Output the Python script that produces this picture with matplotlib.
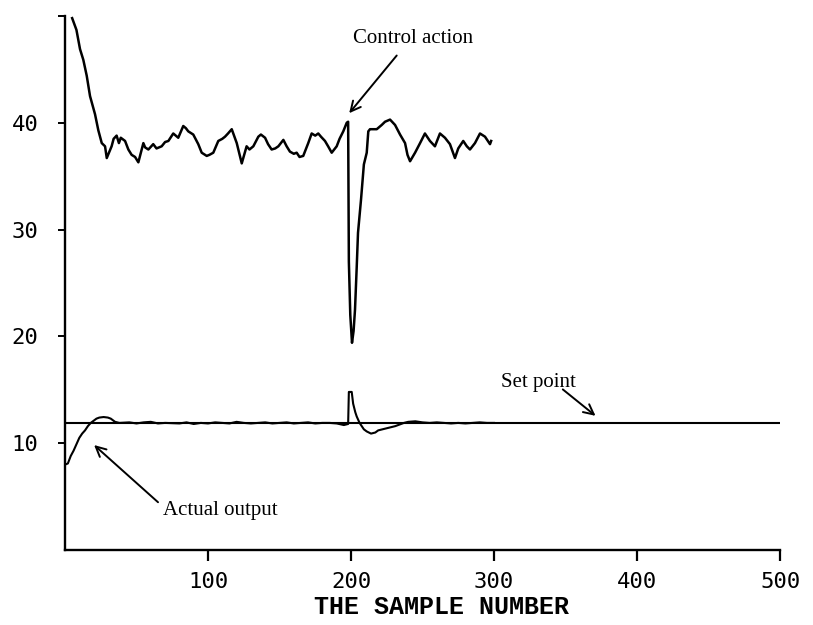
import matplotlib
matplotlib.use("Agg")
import matplotlib.pyplot as plt

# Control action series (sample number, value)
ctrl_x = [5, 8, 10.5, 12.8, 15.2, 17.5, 21, 23.3, 25.7, 28, 29.2, 32.6, 34, 36.1, 37.7, 39, 42,
          44.3, 46.6, 49, 51.3, 54.8, 56, 58.3, 61.7, 64, 67.6, 70, 72.3, 75.7, 79.2, 82.7,
          84.5, 86.2, 89.7, 93.2, 95.6, 99.1, 101, 103.7, 107.2, 110, 111.9, 114, 116.6,
          120.1, 123.6, 127, 129, 131.7, 135.2, 137, 139.9, 142, 144.5, 147, 149.2, 152.7,
          155, 157.3, 160, 162, 164, 166.6, 170.1, 172.5, 175, 177.1, 179, 181.8, 184, 186.5,
          190, 192, 194.6, 197, 198, 198.5, 199.5, 200.7, 201.8, 202.8, 204, 204.9, 207, 209,
          211, 212.1, 213.3, 218, 221.5, 223.8, 227.3, 230.8, 234.3, 237.8, 239.5, 241.3,
          244.8, 248.3, 251.7, 255.2, 258.7, 262.2, 265.7, 269.2, 272.7, 275, 278.5, 281,
          283.2, 286.7, 290.2, 293.7, 297.2, 298]
ctrl_y = [49.8, 48.7, 46.9, 45.9, 44.4, 42.5, 40.8, 39.3, 38.1, 37.8, 36.7, 37.8, 38.5, 38.8,
          38.1, 38.6, 38.3, 37.5, 37.0, 36.8, 36.3, 38.1, 37.7, 37.5, 38.0, 37.6, 37.8, 38.2,
          38.3, 39.0, 38.6, 39.7, 39.5, 39.2, 38.9, 38.0, 37.2, 36.9, 37.0, 37.2, 38.3, 38.5,
          38.7, 39.0, 39.4, 38.1, 36.2, 37.8, 37.5, 37.8, 38.7, 38.9, 38.6, 38.0, 37.5, 37.6,
          37.8, 38.4, 37.8, 37.3, 37.1, 37.2, 36.8, 36.9, 38.1, 39.0, 38.8, 39.0, 38.7, 38.3,
          37.8, 37.2, 37.8, 38.5, 39.2, 40.0, 40.1, 27.0, 22.0, 19.4, 20.5, 22.5, 26.5, 29.7,
          32.8, 36.1, 37.2, 39.2, 39.4, 39.4, 39.8, 40.1, 40.3, 39.8, 38.9, 38.1, 37.0, 36.4,
          37.2, 38.1, 39.0, 38.3, 37.8, 39.0, 38.6, 38.0, 36.7, 37.6, 38.3, 37.8, 37.5, 38.1,
          39.0, 38.7, 38.0, 38.3]

# Actual output series
out_x = [0, 2, 4, 6, 8, 10, 12, 14, 16, 18, 20, 22, 24, 27, 30, 32, 35, 38, 45, 50, 55, 60,
         65, 70, 80, 85, 90, 95, 100, 105, 110, 115, 120, 125, 130, 135, 140, 145, 150, 155,
         160, 165, 170, 175, 180, 185, 190, 195, 198, 198.5, 200.5, 201.5, 203, 204, 206,
         207.5, 209, 211, 214, 217, 219, 222, 225, 228, 231, 234, 237, 240, 245, 250, 255,
         260, 265, 270, 275, 280, 285, 290, 295, 300]
out_y = [8.0, 8.1, 8.8, 9.3, 9.9, 10.5, 10.9, 11.2, 11.6, 11.9, 12.1, 12.3, 12.4, 12.45,
         12.4, 12.3, 12.0, 11.9, 11.95, 11.85, 11.95, 12.0, 11.85, 11.9, 11.85, 11.95, 11.8,
         11.9, 11.85, 11.95, 11.9, 11.85, 12.0, 11.9, 11.85, 11.9, 11.95, 11.85, 11.9, 11.95,
         11.85, 11.9, 11.95, 11.85, 11.9, 11.9, 11.85, 11.7, 11.8, 14.8, 14.8, 13.7, 12.9,
         12.5, 11.9, 11.6, 11.3, 11.1, 10.9, 11.0, 11.2, 11.3, 11.4, 11.5, 11.6, 11.75, 11.9,
         12.0, 12.05, 11.95, 11.9, 11.95, 11.9, 11.85, 11.9, 11.85, 11.9, 11.95, 11.9, 11.9]

# Set point
sp_x = [0, 500]
sp_y = [11.9, 11.9]

x_ticks = [100, 200, 300, 400, 500]
y_ticks = [10, 20, 30, 40, 50]
y_tick_labels = ["10", "20", "30", "40", ""]

fig = plt.figure(figsize=(8.13, 6.25), dpi=100)
ax = fig.add_axes([65 / 813, 1 - 550 / 625, (780 - 65) / 813, (550 - 16) / 625])

ax.plot(ctrl_x, ctrl_y, color="black", lw=1.8)
ax.plot(out_x, out_y, color="black", lw=1.5)
ax.plot(sp_x, sp_y, color="black", lw=1.5)

ax.set_xlim(0, 500)
ax.set_ylim(0, 50)
for s in ["top", "right"]:
    ax.spines[s].set_visible(False)
for s in ["left", "bottom"]:
    ax.spines[s].set_linewidth(1.7)

mono = "DejaVu Sans Mono"
ax.set_xticks(x_ticks)
ax.set_xticklabels([str(t) for t in x_ticks], family=mono, fontsize=16)
ax.set_yticks(y_ticks)
ax.set_yticklabels(y_tick_labels, family=mono, fontsize=16)
ax.tick_params(axis="x", direction="out", length=8, width=1.6, pad=8)
ax.tick_params(axis="y", direction="out", length=5, width=1.4, pad=14)
ax.set_xlabel("THE SAMPLE NUMBER", family="Liberation Mono", fontweight="bold",
              fontsize=18, va="center")
ax.xaxis.set_label_coords(0.527, -0.107)

serif = "Liberation Serif"
arrow = dict(arrowstyle="->", color="black", lw=1.4, mutation_scale=18)

ax.text(243.7, 47.9, "Control action", family=serif, fontsize=15, ha="center", va="center")
ax.annotate("", xy=(197.5, 40.7), xytext=(233.2, 46.5), arrowprops=arrow)

ax.text(331, 15.7, "Set point", family=serif, fontsize=15, ha="center", va="center")
ax.annotate("", xy=(372.5, 12.4), xytext=(346.6, 15.2), arrowprops=arrow)

ax.text(108.5, 3.7, "Actual output", family=serif, fontsize=15, ha="center", va="center")
ax.annotate("", xy=(18.9, 10.0), xytext=(66.5, 4.3), arrowprops=arrow)

fig.savefig("out.png", dpi=100)
